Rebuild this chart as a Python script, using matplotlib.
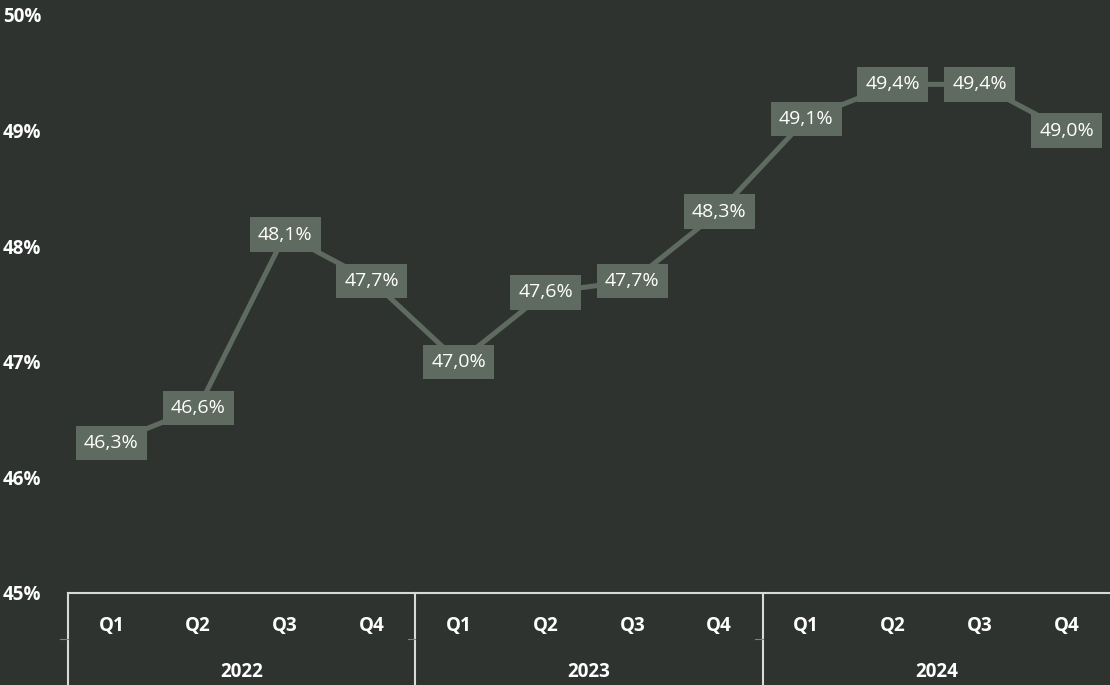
import matplotlib
matplotlib.use("Agg")
from matplotlib import pyplot as plt

plt.rcParams['font.family'] = ['Open Sans', 'DejaVu Sans']

years = ['2022', '2023', '2024']
quarters = ['Q1', 'Q2', 'Q3', 'Q4']
values = [46.3, 46.6, 48.1, 47.7, 47.0, 47.6, 47.7, 48.3, 49.1, 49.4, 49.4, 49.0]
y_ticks = [45, 46, 47, 48, 49, 50]

bg = '#2f3330'
line_col = '#5f6b60'
axis_col = '#d9d9d9'

fig = plt.figure(figsize=(11.1, 6.85), dpi=100)
fig.patch.set_facecolor(bg)
ax = fig.add_axes([68 / 1110, 92 / 685, 1 - 68 / 1110, 578 / 685])
ax.set_facecolor(bg)

n = len(values)
x = list(range(n))
ax.plot(x, values, color=line_col, lw=3.6, solid_capstyle='butt', zorder=2)

for xi, v in zip(x, values):
    ax.text(xi, v, f"{v:.1f}%".replace('.', ','), ha='center', va='center',
            color='white', fontsize=14, zorder=3,
            bbox=dict(boxstyle='square,pad=0.42', fc=line_col, ec='none'))

ax.set_xlim(-0.5, n - 0.5)
ax.set_ylim(45, 50)
ax.set_xticks([])
ax.set_yticks(y_ticks)
ax.set_yticklabels([f"{t}%" for t in y_ticks], color='white',
                   fontsize=13.5, fontweight='bold')
for lab in ax.get_yticklabels():
    lab.set_ha('left')
ax.tick_params(axis='y', length=0, pad=47)

for s in ['top', 'right', 'left']:
    ax.spines[s].set_visible(False)
ax.spines['bottom'].set_color(axis_col)
ax.spines['bottom'].set_linewidth(1.5)

# two-level category axis
tr = ax.get_xaxis_transform()
for i, xi in enumerate(x):
    ax.text(xi, -33 / 578, quarters[i % 4], transform=tr, ha='center',
            va='center', color='white', fontsize=13.5, fontweight='bold')
for j, yr in enumerate(years):
    ax.text(j * 4 + 1.5, -79 / 578, yr, transform=tr, ha='center',
            va='center', color='white', fontsize=13.5, fontweight='bold')
for j in range(len(years)):
    xs = j * 4 - 0.5
    ax.plot([xs, xs], [0, -92 / 578], transform=tr, color=axis_col,
            lw=1.5, clip_on=False)
    ax.plot([xs - 0.09, xs], [-46 / 578, -46 / 578], transform=tr,
            color='#808080', lw=0.8, clip_on=False)

fig.savefig('out.png', facecolor=bg)
